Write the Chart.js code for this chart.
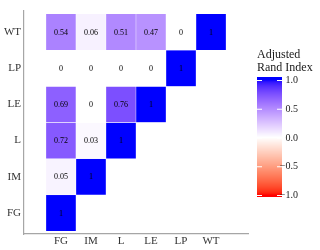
<!DOCTYPE html>
<html>
<head>
<meta charset="utf-8">
<script src="https://cdn.jsdelivr.net/npm/chart.js@4/dist/chart.umd.min.js"></script>
<style>
  html, body { margin: 0; padding: 0; background: #fff; }
  #wrap { width: 320px; height: 250px; }
</style>
</head>
<body>
<div id="wrap"><canvas id="chart" width="320" height="250"></canvas></div>
<script>
/* data */
var methods = ["FG", "IM", "L", "LE", "LP", "WT"];
var rowFG = [1];
var rowIM = [0.05, 1];
var rowL = [0.72, 0.03, 1];
var rowLE = [0.69, 0, 0.76, 1];
var rowLP = [0, 0, 0, 0, 1];
var rowWT = [0.54, 0.06, 0.51, 0.47, 0, 1];
var rows = [rowFG, rowIM, rowL, rowLE, rowLP, rowWT];
var legendTicks = [1.0, 0.5, 0.0, -0.5, -1.0];

var serif = "'Liberation Serif', 'Times New Roman', 'DejaVu Serif', serif";

/* colour scale: red - white - blue, mixed in Lab like ggplot */
function toLab(rgb) {
    var c = rgb.map(function(v) {
        v = v / 255;
        return v > 0.04045 ? Math.pow((v + 0.055) / 1.055, 2.4) : v / 12.92;
    });
    var x = (c[0] * 0.4124 + c[1] * 0.3576 + c[2] * 0.1805) / 0.95047;
    var y = (c[0] * 0.2126 + c[1] * 0.7152 + c[2] * 0.0722);
    var z = (c[0] * 0.0193 + c[1] * 0.1192 + c[2] * 0.9505) / 1.08883;
    var f = function(t) { return t > 0.008856 ? Math.cbrt(t) : 7.787 * t + 16 / 116; };
    return [116 * f(y) - 16, 500 * (f(x) - f(y)), 200 * (f(y) - f(z))];
}
function fromLab(lab) {
    var fy = (lab[0] + 16) / 116;
    var fx = fy + lab[1] / 500;
    var fz = fy - lab[2] / 200;
    var g = function(t) { return t > 0.206893 ? t * t * t : (t - 16 / 116) / 7.787; };
    var x = g(fx) * 0.95047, y = g(fy), z = g(fz) * 1.08883;
    var r = x * 3.2406 + y * -1.5372 + z * -0.4986;
    var gg = x * -0.9689 + y * 1.8758 + z * 0.0415;
    var b = x * 0.0557 + y * -0.2040 + z * 1.0570;
    return [r, gg, b].map(function(v) {
        v = v > 0.0031308 ? 1.055 * Math.pow(v, 1 / 2.4) - 0.055 : 12.92 * v;
        return Math.max(0, Math.min(255, Math.round(v * 255)));
    });
}
var labHigh = toLab([0, 0, 255]);
var labMid = toLab([255, 255, 255]);
var labLow = toLab([255, 0, 0]);
function fillFor(v) {
    var end = v >= 0 ? labHigh : labLow;
    var t = Math.abs(v);
    var lab = [0, 1, 2].map(function(k) { return labMid[k] + (end[k] - labMid[k]) * t; });
    var c = fromLab(lab);
    return "rgb(" + c[0] + "," + c[1] + "," + c[2] + ")";
}

/* cells */
var cells = [];
var i, j;
for (i = 0; i < rows.length; i++) {
    for (j = 0; j < rows[i].length; j++) {
        cells.push({ x: j, y: [i - 0.5, i + 0.5], v: rows[i][j] });
    }
}

function labelOf(v) {
    if (v === 0 || v === 1) return String(v);
    return v.toFixed(2);
}

var cellText = {
    id: "cellText",
    afterDraw: function(chart) {
        var ctx = chart.ctx;
        var meta = chart.getDatasetMeta(0);
        ctx.save();
        ctx.font = "8px " + serif;
        ctx.fillStyle = "#000";
        ctx.textAlign = "center";
        ctx.textBaseline = "middle";
        meta.data.forEach(function(bar, k) {
            var mid = (bar.y + bar.base) / 2;
            ctx.fillText(labelOf(cells[k].v), bar.x, mid + 0.5);
        });
        ctx.restore();
    }
};

var colourBar = {
    id: "colourBar",
    afterDraw: function(chart) {
        var ctx = chart.ctx;
        var left = 257, width = 25, top = 77, bottom = 197;
        var yHi = 80, yLo = 195;
        ctx.save();
        var y;
        for (y = top; y < bottom; y++) {
            var v = 1 - 2 * ((y + 0.5 - yHi) / (yLo - yHi));
            v = Math.max(-1, Math.min(1, v));
            ctx.fillStyle = fillFor(v);
            ctx.fillRect(left, y, width, 1);
        }
        ctx.strokeStyle = "#fff";
        ctx.lineWidth = 1;
        ctx.font = "10px " + serif;
        ctx.fillStyle = "#1a1a1a";
        ctx.textAlign = "right";
        ctx.textBaseline = "middle";
        legendTicks.forEach(function(t) {
            var ty = yHi + (1 - t) / 2 * (yLo - yHi);
            ctx.beginPath();
            ctx.moveTo(left, ty + 0.5);
            ctx.lineTo(left + 5, ty + 0.5);
            ctx.moveTo(left + width - 5, ty + 0.5);
            ctx.lineTo(left + width, ty + 0.5);
            ctx.stroke();
            var s = t.toFixed(1);
            if (t < 0) s = "\u2212" + Math.abs(t).toFixed(1);
            ctx.fillText(s, 298, ty + 0.5);
        });
        ctx.font = "12px " + serif;
        ctx.textAlign = "left";
        ctx.textBaseline = "alphabetic";
        ctx.fillText("Adjusted", 257, 58);
        ctx.fillText("Rand Index", 257, 71);
        ctx.restore();
    }
};

window.onload = function() {
    var ctx = document.getElementById("chart").getContext("2d");
    window.theChart = new Chart(ctx, {
        type: "bar",
        data: {
            datasets: [{
                data: cells,
                backgroundColor: cells.map(function(c) { return fillFor(c.v); }),
                borderColor: "rgba(255,255,255,0.7)",
                borderWidth: 0.5,
                borderSkipped: false,
                barPercentage: 1,
                categoryPercentage: 1
            }]
        },
        options: {
            responsive: false,
            animation: false,
            layout: { padding: { top: 11, right: 72, left: 0, bottom: 0 } },
            plugins: { legend: { display: false }, tooltip: { enabled: false } },
            scales: {
                x: {
                    type: "linear",
                    min: -0.61,
                    max: 5.61,
                    afterBuildTicks: function(scale) {
                        scale.ticks = methods.map(function(m, k) { return { value: k }; });
                    },
                    afterFit: function(scale) { scale.height = 16; },
                    grid: { display: false, drawTicks: false },
                    border: { display: true, color: "#a6a6a6", width: 1.2 },
                    ticks: {
                        padding: 1,
                        color: "#333",
                        font: { family: serif, size: 11 },
                        maxRotation: 0,
                        autoSkip: false,
                        callback: function(v) { return methods[v]; }
                    }
                },
                y: {
                    type: "linear",
                    min: -0.58,
                    max: 5.58,
                    afterBuildTicks: function(scale) {
                        scale.ticks = methods.map(function(m, k) { return { value: k }; });
                    },
                    afterFit: function(scale) { scale.width = 24; },
                    grid: { display: false, drawTicks: false },
                    border: { display: true, color: "#a6a6a6", width: 1.2 },
                    ticks: {
                        padding: 3,
                        color: "#333",
                        font: { family: serif, size: 11 },
                        autoSkip: false,
                        callback: function(v) { return methods[v]; }
                    }
                }
            }
        },
        plugins: [cellText, colourBar]
    });
};
</script>
</body>
</html>
